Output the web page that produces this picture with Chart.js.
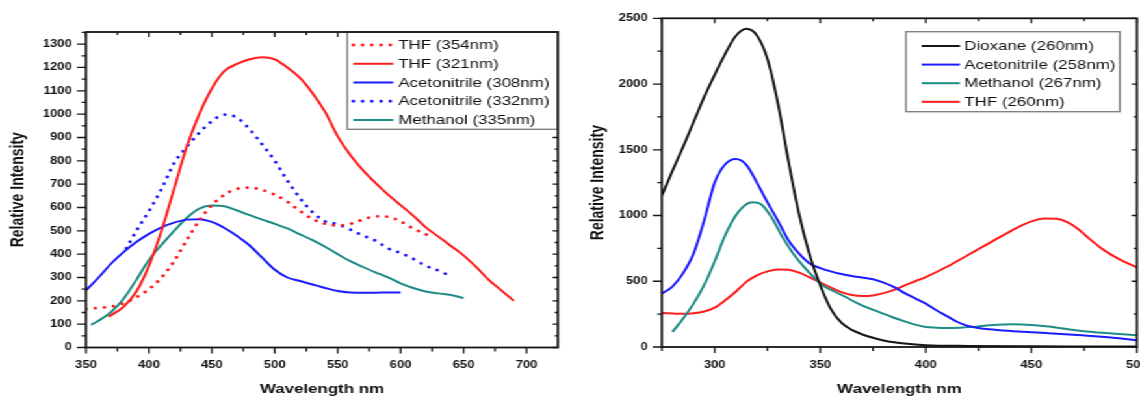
<!DOCTYPE html>
<html>
<head>
<meta charset="utf-8">
<script src="https://cdn.jsdelivr.net/npm/chart.js@4.4.1/dist/chart.umd.min.js"></script>
<style>
  html, body { margin: 0; padding: 0; background: #fff; width: 1140px; height: 400px; overflow: hidden; }
  /* the source figure is stretched sideways, so draw at 877px and widen */
  #wrap { position: absolute; left: 0; top: 0; width: 877px; height: 400px; transform: scaleX(1.2999); transform-origin: 0 0; }
  #left { position: absolute; left: 0; top: 0; }
  #right { position: absolute; left: 438px; top: 0; }
</style>
</head>
<body>
<div id="wrap">
  <canvas id="left" width="438" height="400"></canvas>
  <canvas id="right" width="439" height="400"></canvas>
</div>
<script>
// ── Left panel: emission spectra ─────────────────────────────────────────────
const leftXTicks = [350, 400, 450, 500, 550, 600, 650, 700];
const leftYTicks = [0, 100, 200, 300, 400, 500, 600, 700, 800, 900, 1000, 1100, 1200, 1300];

const thf354X = [350, 360, 370, 380, 390, 400, 410, 420, 430, 440, 450, 460, 470, 480, 490, 500, 510, 520, 530, 540, 550, 560, 570, 580, 590, 600, 610, 620, 623];
const thf354Y = [165, 170, 175, 190, 215, 250, 300, 370, 460, 545, 610, 655, 680, 685, 675, 655, 625, 585, 550, 530, 523, 530, 548, 562, 560, 540, 510, 485, 478];

const thf321X = [368, 380, 390, 400, 410, 420, 430, 440, 450, 460, 470, 480, 490, 500, 510, 520, 530, 540, 550, 560, 570, 580, 590, 600, 610, 620, 630, 640, 650, 660, 670, 680, 690];
const thf321Y = [132, 175, 240, 350, 500, 680, 860, 1000, 1110, 1185, 1215, 1235, 1244, 1235, 1200, 1155, 1090, 1010, 905, 825, 760, 705, 655, 610, 565, 515, 475, 435, 395, 345, 290, 245, 200];

const acn308X = [350, 360, 370, 380, 390, 400, 410, 420, 430, 440, 450, 460, 470, 480, 490, 500, 510, 520, 530, 540, 550, 560, 570, 580, 590, 600];
const acn308Y = [245, 300, 360, 410, 452, 487, 515, 535, 548, 550, 538, 512, 478, 437, 385, 333, 300, 285, 270, 255, 242, 236, 235, 235, 236, 236];

const acn332X = [382, 390, 400, 410, 420, 430, 440, 450, 460, 470, 480, 490, 500, 510, 520, 530, 540, 550, 560, 570, 580, 590, 600, 610, 620, 630, 636];
const acn332Y = [425, 500, 585, 680, 790, 860, 920, 970, 998, 985, 935, 870, 800, 715, 640, 580, 540, 528, 505, 480, 458, 425, 405, 380, 350, 330, 315];

const meoh335X = [354, 360, 370, 380, 390, 400, 410, 420, 430, 440, 450, 460, 470, 480, 490, 500, 510, 520, 530, 540, 550, 560, 570, 580, 590, 600, 610, 620, 630, 640, 650];
const meoh335Y = [97, 115, 152, 210, 290, 375, 440, 500, 555, 595, 608, 605, 587, 567, 548, 530, 510, 485, 460, 432, 400, 370, 345, 322, 300, 275, 255, 240, 232, 225, 212];

// ── Right panel: excitation spectra ──────────────────────────────────────────
const rightXTicks = [300, 350, 400, 450, 500];
const rightYTicks = [0, 500, 1000, 1500, 2000, 2500];

const dioxX = [275, 280, 285, 290, 295, 300, 305, 310, 315, 320, 325, 330, 335, 340, 345, 350, 355, 360, 365, 370, 375, 380, 385, 390, 400, 420, 450, 475, 500];
const dioxY = [1150, 1340, 1520, 1710, 1900, 2070, 2230, 2365, 2420, 2370, 2190, 1850, 1410, 1010, 700, 470, 290, 185, 130, 95, 70, 50, 36, 26, 14, 8, 5, 4, 3];

const acnX = [275, 280, 285, 290, 295, 300, 305, 310, 315, 320, 325, 330, 335, 340, 345, 350, 355, 360, 365, 370, 375, 380, 385, 390, 395, 400, 405, 410, 415, 420, 425, 430, 440, 450, 460, 470, 480, 490, 500];
const acnY = [406, 460, 560, 710, 960, 1250, 1390, 1430, 1385, 1250, 1100, 960, 810, 710, 635, 600, 575, 555, 540, 528, 515, 490, 456, 410, 370, 330, 280, 235, 190, 160, 145, 135, 122, 112, 103, 93, 82, 68, 51];

const meohX = [280, 285, 290, 295, 300, 305, 310, 315, 318, 322, 327, 332, 337, 342, 347, 352, 357, 362, 368, 373, 378, 384, 390, 395, 400, 405, 410, 416, 424, 432, 441, 450, 457, 465, 472, 479, 490, 500];
const meohY = [114, 215, 330, 470, 650, 850, 1000, 1085, 1100, 1085, 985, 840, 715, 615, 530, 460, 420, 380, 330, 295, 266, 228, 195, 170, 152, 147, 145, 147, 155, 168, 173, 168, 157, 140, 125, 114, 100, 89];

const thfX = [275, 280, 285, 290, 295, 300, 305, 310, 315, 320, 325, 330, 335, 340, 345, 350, 355, 360, 365, 370, 375, 380, 385, 390, 395, 400, 410, 420, 430, 440, 450, 456, 462, 467, 472, 477, 482, 487, 492, 500];
const thfY = [258, 255, 252, 256, 270, 300, 355, 420, 495, 545, 575, 590, 588, 565, 530, 492, 452, 418, 395, 387, 392, 410, 435, 468, 500, 532, 610, 700, 790, 880, 955, 978, 975, 950, 900, 830, 765, 710, 665, 605];

const RED = '#ff1c1c';
const BLUE = '#1c1cff';
const TEAL = '#1d8c84';
const BLACK = '#151515';
const FONT = "'Liberation Sans', Arial, sans-serif";

function pts(xs, ys) { return xs.map((x, i) => ({ x: x, y: ys[i] })); }

function series(label, xs, ys, color, dotted) {
  return {
    label: label,
    data: pts(xs, ys),
    borderColor: color,
    backgroundColor: color,
    borderWidth: dotted ? 2.8 : 2,
    borderDash: dotted ? [0.1, 7] : [],
    borderCapStyle: dotted ? 'round' : 'butt',
    pointRadius: 0,
    tension: 0.4,
    cubicInterpolationMode: 'monotone',
    fill: false
  };
}

// frame with in/out tick marks plus the boxed legend
const framePlugin = {
  id: 'frame',
  afterDatasetsDraw(chart, args, o) {
    const ctx = chart.ctx, a = chart.chartArea;
    const sx = chart.scales.x, sy = chart.scales.y;
    ctx.save();
    ctx.strokeStyle = BLACK;
    ctx.lineWidth = 1.3;
    ctx.beginPath();
    o.xMajor.forEach(v => {
      const p = sx.getPixelForValue(v);
      ctx.moveTo(p, a.bottom); ctx.lineTo(p, a.bottom + 6);
      ctx.moveTo(p, a.top); ctx.lineTo(p, a.top + 5);
    });
    o.xMinor.forEach(v => {
      const p = sx.getPixelForValue(v);
      ctx.moveTo(p, a.bottom); ctx.lineTo(p, a.bottom + 4);
      ctx.moveTo(p, a.top); ctx.lineTo(p, a.top + 3);
    });
    o.yMajor.forEach(v => {
      const p = sy.getPixelForValue(v);
      ctx.moveTo(a.left, p); ctx.lineTo(a.left - 7, p);
      ctx.moveTo(a.right, p); ctx.lineTo(a.right - 4, p);
    });
    o.yMinor.forEach(v => {
      const p = sy.getPixelForValue(v);
      ctx.moveTo(a.left, p); ctx.lineTo(a.left - 3.5, p);
      ctx.moveTo(a.right, p); ctx.lineTo(a.right - 2.5, p);
    });
    ctx.stroke();

    // legend
    const L = o.legend;
    const right = L.right == null ? a.right : L.right;
    ctx.fillStyle = '#fff';
    ctx.fillRect(L.left, L.top, right - L.left, L.bottom - L.top);
    ctx.strokeStyle = '#808080';
    ctx.lineWidth = 1.4;
    ctx.strokeRect(L.left, L.top, right - L.left, L.bottom - L.top);
    ctx.font = '13px ' + FONT;
    ctx.textBaseline = 'middle';
    ctx.textAlign = 'left';
    chart.data.datasets.forEach((ds, i) => {
      const y = L.row0 + i * L.step;
      ctx.strokeStyle = ds.borderColor;
      ctx.lineWidth = ds.borderWidth;
      ctx.lineCap = ds.borderCapStyle;
      ctx.setLineDash(ds.borderDash);
      ctx.beginPath();
      ctx.moveTo(L.lineX0, y); ctx.lineTo(L.lineX1, y);
      ctx.stroke();
      ctx.setLineDash([]);
      ctx.lineCap = 'butt';
      ctx.fillStyle = '#111';
      ctx.fillText(ds.label, L.textX, y + 0.5);
    });
    // frame last so the legend box sits under it
    ctx.strokeStyle = BLACK;
    ctx.lineWidth = 1.8;
    ctx.strokeRect(a.left, a.top, a.right - a.left, a.bottom - a.top);
    ctx.restore();
  }
};

function axes(xMin, xMax, yMin, yMax, xTicks, yTicks, yWidth, xHeight, yTitlePad) {
  return {
    x: {
      type: 'linear', min: xMin, max: xMax,
      grid: { display: false, drawTicks: false },
      border: { display: false },
      afterBuildTicks: s => { s.ticks = xTicks.map(v => ({ value: v })); },
      afterFit: s => { s.height = xHeight; s.paddingLeft = 0; s.paddingRight = 0; },
      ticks: { color: '#111', padding: 12, font: { family: FONT, size: 10, weight: 'bold' }, callback: v => String(v), maxRotation: 0, autoSkip: false },
      title: { display: true, text: 'Wavelength nm', color: '#111', font: { family: FONT, size: 13, weight: 'bold' }, padding: { top: 0, bottom: 3 } }
    },
    y: {
      type: 'linear', min: yMin, max: yMax,
      grid: { display: false, drawTicks: false },
      border: { display: false },
      afterBuildTicks: s => { s.ticks = yTicks.map(v => ({ value: v })); },
      afterFit: s => { s.width = yWidth; s.paddingTop = 0; s.paddingBottom = 0; },
      ticks: { color: '#111', padding: 11, font: { family: FONT, size: 10, weight: 'bold' }, callback: v => String(v), autoSkip: false },
      title: { display: true, text: 'Relative Intensity', color: '#111', font: { family: FONT, size: 14, weight: 'bold' }, padding: { top: yTitlePad, bottom: 0 } }
    }
  };
}

function minorBetween(ticks, step) {
  return ticks.map(v => v + step / 2);
}

new Chart(document.getElementById('left'), {
  type: 'line',
  data: {
    datasets: [
      series('THF (354nm)', thf354X, thf354Y, RED, true),
      series('THF (321nm)', thf321X, thf321Y, RED, false),
      series('Acetonitrile (308nm)', acn308X, acn308Y, BLUE, false),
      series('Acetonitrile (332nm)', acn332X, acn332Y, BLUE, true),
      series('Methanol (335nm)', meoh335X, meoh335Y, TEAL, false)
    ]
  },
  options: {
    responsive: false,
    animation: false,
    layout: { padding: { left: 0, right: 8.8, top: 32, bottom: 0 } },
    scales: axes(350, 725, 0, 1352, leftXTicks, leftYTicks, 66.2, 52.5, 5.4),
    plugins: {
      legend: { display: false },
      tooltip: { enabled: false },
      frame: {
        xMajor: leftXTicks, xMinor: minorBetween(leftXTicks, 50).filter(v => v < 725),
        yMajor: leftYTicks, yMinor: minorBetween(leftYTicks, 100),
        legend: { left: 267.2, top: 32, right: null, bottom: 129.3, row0: 45, step: 18.75, lineX0: 271.8, lineX1: 302.5, textX: 306.4 }
      }
    }
  },
  plugins: [framePlugin]
});

new Chart(document.getElementById('right'), {
  type: 'line',
  data: {
    datasets: [
      series('Dioxane (260nm)', dioxX, dioxY, BLACK, false),
      series('Acetonitrile (258nm)', acnX, acnY, BLUE, false),
      series('Methanol (267nm)', meohX, meohY, TEAL, false),
      series('THF (260nm)', thfX, thfY, RED, false)
    ]
  },
  options: {
    responsive: false,
    animation: false,
    layout: { padding: { left: 0, right: 2.4, top: 18.3, bottom: 0 } },
    scales: axes(275, 500, 0, 2500, rightXTicks, rightYTicks, 71.2, 53, 13.6),
    plugins: {
      legend: { display: false },
      tooltip: { enabled: false },
      frame: {
        xMajor: rightXTicks, xMinor: [275].concat(minorBetween(rightXTicks, 50).filter(v => v < 500)),
        yMajor: rightYTicks, yMinor: minorBetween(rightYTicks, 500).filter(v => v < 2500),
        legend: { left: 258.9, top: 31.7, right: 423.5, bottom: 111.7, row0: 46, step: 18.6, lineX0: 271, lineX1: 300.5, textX: 303.8 }
      }
    }
  },
  plugins: [framePlugin]
});
</script>
</body>
</html>
